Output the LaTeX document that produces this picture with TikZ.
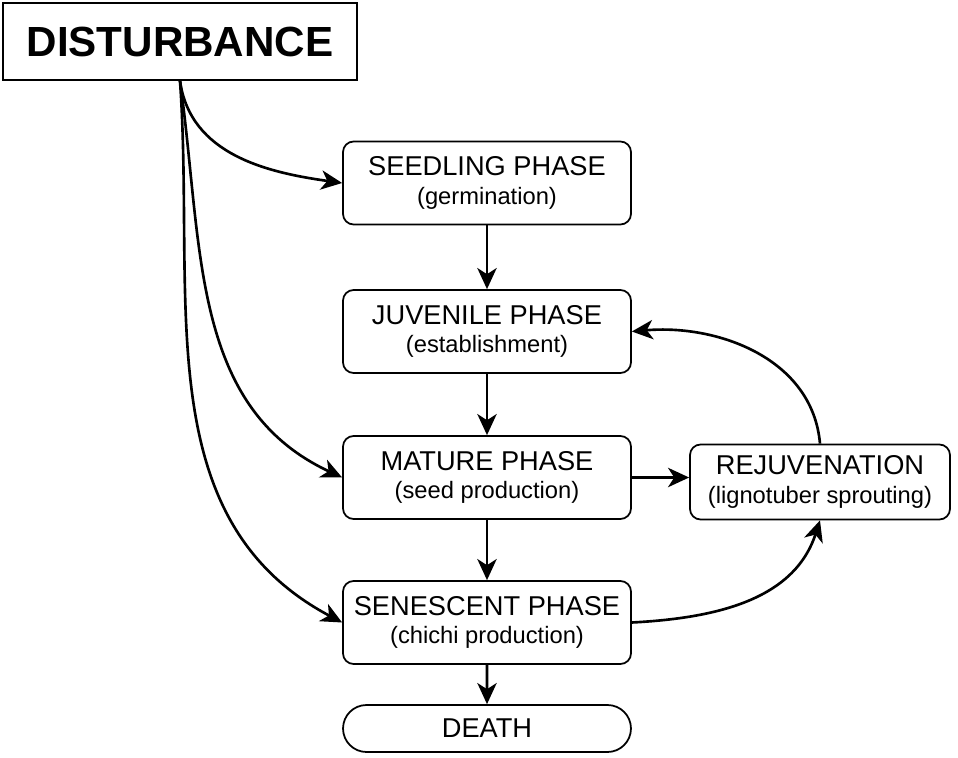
\documentclass[tikz,border=0pt]{standalone}
\usepackage{fontspec}
\setmainfont{Liberation Sans}
\usetikzlibrary{arrows.meta,shapes.misc}

\newcommand{\phasetitle}[1]{{\fontsize{15.5}{18}\selectfont #1}}
\newcommand{\phasenote}[1]{{\fontsize{13.5}{16}\selectfont #1}}

\begin{document}
\begin{tikzpicture}[x=0.02cm, y=-0.02cm,
  phase/.style={draw, line width=1pt, rounded corners=6pt, minimum width=5.76cm,
    minimum height=1.66cm, align=center, inner sep=0pt},
  link/.style={-{Stealth[length=12pt,width=11pt,inset=3.5pt]}, line width=1.5pt}]
\useasboundingbox (0,0) rectangle (958,758);
% boxes
\node [draw, line width=1pt, minimum width=7.08cm, minimum height=1.54cm,
  font=\fontsize{24}{28}\selectfont\bfseries] (disturb) at (180,41.5) {DISTURBANCE};
\node [phase] (seedling) at (487,183) {\phasetitle{SEEDLING PHASE}\\[4pt]\phasenote{(germination)}};
\node [phase] (juvenile) at (487,331.5) {\phasetitle{JUVENILE PHASE}\\[4pt]\phasenote{(establishment)}};
\node [phase] (mature) at (487,477.5) {\phasetitle{MATURE PHASE}\\[4pt]\phasenote{(seed production)}};
\node [phase] (senescent) at (487,622.5) {\phasetitle{SENESCENT PHASE}\\[4pt]\phasenote{(chichi production)}};
\node [phase, minimum width=5.2cm, minimum height=1.5cm] (rejuv) at (820,482)
  {\phasetitle{REJUVENATION}\\[4pt]\phasenote{(lignotuber sprouting)}};
\node [draw, line width=1pt, rounded rectangle, minimum width=5.76cm, minimum height=0.94cm,
  inner sep=0pt, font=\fontsize{15.5}{18}\selectfont] (death) at (487,728.5) {DEATH};
% arrows
\draw [link] (disturb.south) to[out=-82, in=172] (seedling.west);
\draw [link] (disturb.south) to[out=-82, in=155] (mature.west);
\draw [link] (disturb.south) to[out=-86, in=152] (senescent.west);
\draw [link] (seedling) -- (juvenile);
\draw [link] (juvenile) -- (mature);
\draw [link] (mature) -- (senescent);
\draw [link] (senescent) -- (death);
\draw [link] (mature.east) -- (mature.east -| rejuv.west);
\draw [link] (rejuv.north) to[out=95, in=5] (juvenile.east);
\draw [link] (senescent.east) to[out=3, in=-108] (rejuv.south);
\end{tikzpicture}
\end{document}
